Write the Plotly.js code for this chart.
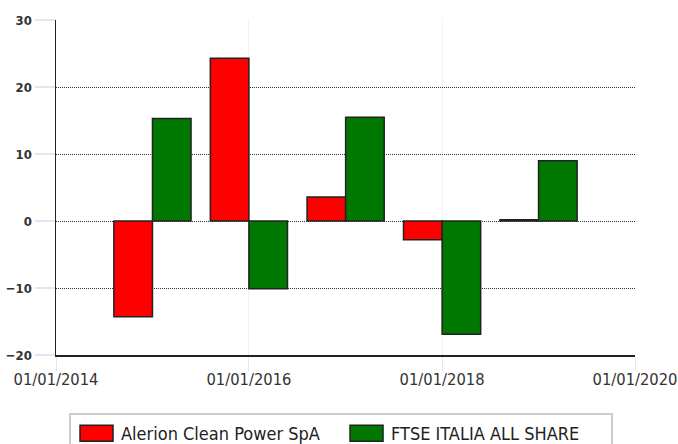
<!DOCTYPE html>
<html>
<head>
<meta charset="utf-8">
<script src="https://cdn.plot.ly/plotly-3.0.1.min.js"></script>
<style>html,body{margin:0;padding:0;background:#fff;}#chart{width:678px;height:444px;}</style>
</head>
<body>
<div id="chart"></div>
<script>
const years = ['2015-01-01', '2016-01-01', '2017-01-01', '2018-01-01', '2019-01-01'];
const alerionValues = [-14.3, 24.3, 3.6, -2.8, 0.2];
const ftseValues = [15.3, -10.1, 15.5, -16.9, 9.0];
const seriesNames = ['Alerion Clean Power SpA', 'FTSE ITALIA ALL SHARE'];
const xTickVals = ['2014-01-01', '2016-01-01', '2018-01-01', '2020-01-01'];
const xTickText = ['01/01/2014', '01/01/2016', '01/01/2018', '01/01/2020'];
const yTickVals = [-20, -10, 0, 10, 20, 30];

const FONT = 'DejaVu Sans Condensed, DejaVu Sans, sans-serif';

const traces = [
  {
    type: 'bar', name: seriesNames[0], x: years, y: alerionValues,
    marker: {color: '#ff0000', line: {color: '#222', width: 1.5}}
  },
  {
    type: 'bar', name: seriesNames[1], x: years, y: ftseValues,
    marker: {color: '#007700', line: {color: '#222', width: 1.5}}
  }
];

const layout = {
  width: 678, height: 444,
  margin: {l: 56, r: 43, t: 20, b: 89, autoexpand: false},
  paper_bgcolor: '#fff', plot_bgcolor: '#fff',
  barmode: 'group', bargap: 0.2, bargroupgap: 0,
  font: {family: FONT, color: '#333'},
  xaxis: {
    type: 'date', range: ['2014-01-01', '2020-01-01'],
    tickvals: xTickVals, ticktext: xTickText,
    showgrid: true, gridcolor: '#d6e4f5', griddash: '1px,1px', gridwidth: 1,
    showline: true, linecolor: '#222', linewidth: 1.5,
    ticks: 'outside', ticklen: 14, tickcolor: '#dce8f6', tickwidth: 1,
    ticklabelstandoff: -5,
    tickfont: {size: 16.4, color: '#333'},
    zeroline: false, fixedrange: true
  },
  yaxis: {
    range: [-20, 30], tickvals: yTickVals,
    showgrid: true, gridcolor: '#333', griddash: '1px,1px', gridwidth: 1,
    showline: true, linecolor: '#222', linewidth: 1.5,
    ticks: 'outside', ticklen: 20, tickcolor: '#dce8f6', tickwidth: 2,
    tickfont: {size: 13, color: '#333', weight: 'bold'},
    zeroline: false, fixedrange: true
  },
  showlegend: true,
  legend: {
    orientation: 'h', x: 0.0225, xanchor: 'left', y: -0.173, yanchor: 'top',
    bordercolor: '#cccccc', borderwidth: 2, bgcolor: '#fff',
    font: {size: 18, color: '#222'}, entrywidth: 215, entrywidthmode: 'pixels',
    itemwidth: 40, traceorder: 'normal'
  }
};

Plotly.newPlot('chart', traces, layout, {displayModeBar: false, staticPlot: true}).then(function (gd) {
  // enlarge the legend swatches to match the reference's wide rectangles
  gd.querySelectorAll('.legend .legendpoints path').forEach(function (p) {
    p.setAttribute('d', 'M17,8H-16V-8H17Z');
  });
});
</script>
</body>
</html>
